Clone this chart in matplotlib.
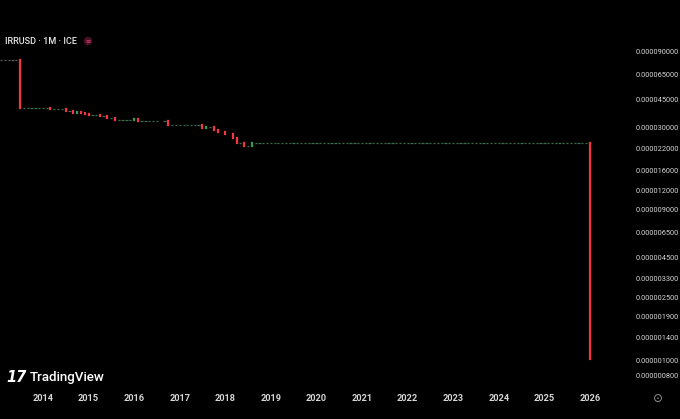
import matplotlib
matplotlib.use("Agg")
import matplotlib.pyplot as plt
import matplotlib.dates as mdates
import pandas as pd
import numpy as np
import datetime as dt

# ---------------- data (IRRUSD monthly closes, units of 1e-5 USD) ----------------
start_month = "2013-01-01"
closes_2013_2018 = [
    8.05, 8.05, 8.05, 8.05, 8.05, 8.05,            # Jan-Jun 2013
    3.96, 3.96, 3.96, 3.96, 3.96, 3.96, 3.96, 3.96,  # Jul 2013 - Feb 2014
    3.92, 3.92, 3.92, 3.92,                        # Mar-Jun 2014
    3.81, 3.81, 3.71, 3.74, 3.69, 3.66,            # Jul-Dec 2014
    3.61, 3.61, 3.61, 3.54, 3.54, 3.44, 3.44, 3.34, 3.34, 3.34, 3.34, 3.34,  # 2015
    3.37, 3.30, 3.30, 3.30, 3.30, 3.30, 3.30, 3.31, 3.31, 3.08, 3.08, 3.08,  # 2016
    3.08, 3.08, 3.08, 3.08, 3.08, 3.08, 2.98, 3.00, 3.00, 2.90, 2.82, 2.80,  # 2017
    2.72, 2.70, 2.58, 2.38, 2.38, 2.27, 2.27, 2.375,                       # Jan-Aug 2018
]
flat_value_2018_2025 = 2.375
flat_months_2018_2025 = 88          # Sep 2018 - Dec 2025
close_jan_2026 = 0.1016

price_ticks = [0.000090, 0.000065, 0.000045, 0.000030, 0.000022, 0.000016,
               0.000012, 0.000009, 0.0000065, 0.0000045, 0.0000033, 0.0000025,
               0.0000019, 0.0000014, 0.0000010, 0.0000008]
year_ticks = list(range(2014, 2027))

# ---------------- build series ----------------
closes = np.array(closes_2013_2018 + [flat_value_2018_2025] * flat_months_2018_2025
                  + [close_jan_2026]) * 1e-5
dates = pd.date_range(start_month, periods=len(closes), freq="MS")
opens = np.concatenate([[closes[0]], closes[:-1]])

RED = "#F23645"
GREEN = "#2e9e5b"
DOJI = "#3a6e50"
DOJI_EARLY = "#5e5e5e"
TXT = "#d6d6d6"

W, H = 680, 419
fig = plt.figure(figsize=(W / 100, H / 100), dpi=100, facecolor="black")
ax = fig.add_axes([0, (H - 385) / H, 628 / W, (385 - 28) / H])
ax.set_facecolor("black")
ax.set_yscale("log")

x = mdates.date2num(dates.to_pydatetime())
half = 9  # days

up = closes > opens
down = closes < opens
flat = closes == opens

early = flat & (np.arange(len(closes)) < 6)
later = flat & (np.arange(len(closes)) >= 6)
ax.hlines(closes[early], x[early] - half, x[early] + half, colors=DOJI_EARLY, lw=0.9)
ax.hlines(closes[later], x[later] - half, x[later] + half, colors=DOJI, lw=0.9)

lc_r = ax.vlines(x[down], opens[down], closes[down], colors=RED, lw=1.6)
lc_r.set_capstyle("projecting")
lc_g = ax.vlines(x[up], opens[up], closes[up], colors=GREEN, lw=1.6)
lc_g.set_capstyle("projecting")

# axis limits derived from pixel calibration
x2014 = mdates.date2num(dt.datetime(2014, 1, 1))
px_per_day = 45.58 / 365.25
ax.set_xlim(x2014 - 43 / px_per_day, x2014 + (628 - 43) / px_per_day)
ax.set_ylim(6.98e-7, 1.277e-4)

# y axis on right
ax.yaxis.tick_right()
ax.set_yticks(price_ticks)
ax.set_yticklabels([f"{v:.9f}" for v in price_ticks])
ax.yaxis.set_minor_locator(matplotlib.ticker.NullLocator())
ax.tick_params(axis="y", length=0, pad=5.5, labelsize=5.3, labelcolor=TXT)
ax.set_xticks([mdates.date2num(dt.datetime(y, 1, 1)) for y in year_ticks])
ax.set_xticklabels([str(y) for y in year_ticks])
ax.tick_params(axis="x", length=0, pad=6.5, labelsize=6.6, labelcolor=TXT)
for lab in ax.get_yticklabels() + ax.get_xticklabels():
    lab.set_fontfamily(["Roboto", "DejaVu Sans"])
for lab in ax.get_xticklabels():
    lab.set_fontweight("bold")
for s in ax.spines.values():
    s.set_visible(False)

# header
fig.text(5 / W, 1 - 41 / H, "IRRUSD · 1M · ICE", color="#e8e8e8", fontsize=6.6,
         fontfamily=["Roboto", "DejaVu Sans"], fontweight="medium", va="center", ha="left")
fig.text(88 / W, 1 - 41 / H, "≡", color="#e8406e", fontsize=4.5, ha="center", va="center",
         bbox=dict(boxstyle="circle,pad=0.25", fc="#4a1026", ec="none"))

# TradingView logo
fig.text(6 / W, 1 - 377 / H, "17", color="white", fontsize=10.5, fontweight="heavy",
         fontfamily=["DejaVu Sans"], va="center", ha="left", fontstyle="italic")
fig.text(30 / W, 1 - 377 / H, "TradingView", color="white", fontsize=9.6,
         fontfamily=["Roboto", "DejaVu Sans"], fontweight="medium", va="center", ha="left")

# settings icon bottom right
fig.text(658 / W, 1 - 398 / H, "⊙", color="#9a9a9a", fontsize=8.5, ha="center", va="center",
         fontfamily=["DejaVu Sans"])

fig.savefig("out.png", dpi=100, facecolor="black")
